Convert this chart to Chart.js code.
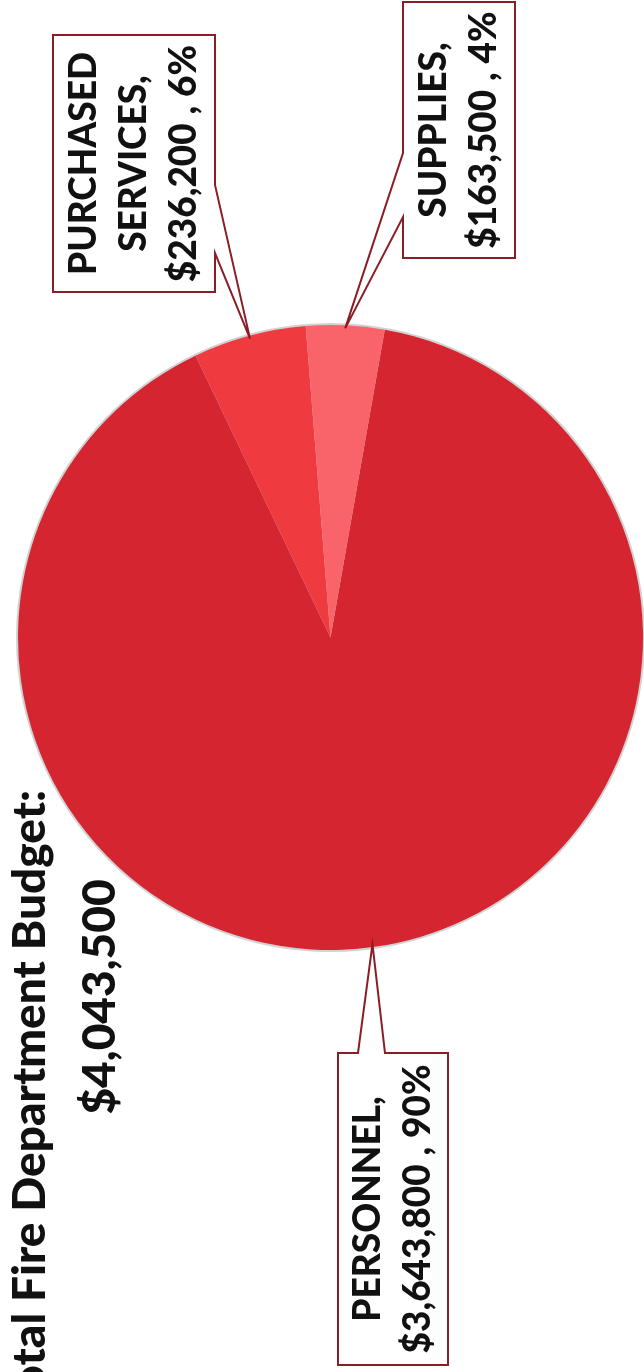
<!DOCTYPE html>
<html>
<head>
<meta charset="utf-8">
<script src="https://cdn.jsdelivr.net/npm/chart.js@4.4.1/dist/chart.umd.min.js"></script>
<style>
    html, body { margin: 0; padding: 0; background: #fff; overflow: hidden; }
    #budgetChart { display: block; }
</style>
</head>
<body>
<canvas id="budgetChart" width="644" height="1372"></canvas>
<script>
// data
const categories = [['PERSONNEL'], ['PURCHASED', 'SERVICES'], ['SUPPLIES']];
const amounts = [3643800, 236200, 163500];
const sliceColors = ['#d42530', '#ef3a40', '#f9646a'];
const titleText = 'Total Fire Department Budget:';

const total = amounts.reduce((s, v) => s + v, 0);
const money = v => '$' + v.toLocaleString('en-US');

// callout boxes (page is turned on its side, text reads bottom to top)
const callouts = [
    { x: 338, y: 1053, w: 110, h: 312, side: 'top', base: [358, 385] },
    { x: 53, y: 35, w: 162, h: 257, side: 'right', base: [185, 253] },
    { x: 403, y: 2, w: 112, h: 256, side: 'left', base: [153, 217] }
];

const labelFont = '900 37px Lato';
const titleFont = '900 46px Lato';
const lineGap = 50;
const edgeColor = '#8b1d26';

function calloutPath(ctx, b, tip) {
    const x0 = b.x, y0 = b.y, x1 = b.x + b.w, y1 = b.y + b.h;
    ctx.beginPath();
    ctx.moveTo(x0, y0);
    if (b.side === 'top') {
        ctx.lineTo(b.base[0], y0); ctx.lineTo(tip.x, tip.y); ctx.lineTo(b.base[1], y0);
    }
    ctx.lineTo(x1, y0);
    if (b.side === 'right') {
        ctx.lineTo(x1, b.base[0]); ctx.lineTo(tip.x, tip.y); ctx.lineTo(x1, b.base[1]);
    }
    ctx.lineTo(x1, y1);
    ctx.lineTo(x0, y1);
    if (b.side === 'left') {
        ctx.lineTo(x0, b.base[1]); ctx.lineTo(tip.x, tip.y); ctx.lineTo(x0, b.base[0]);
    }
    ctx.closePath();
}

function sideText(ctx, lines, cx, cy, gap) {
    ctx.save();
    ctx.translate(cx, cy);
    ctx.rotate(-Math.PI / 2);
    lines.forEach((line, i) => {
        ctx.fillText(line, 0, (i - (lines.length - 1) / 2) * gap);
    });
    ctx.restore();
}

const pieEdge = {
    id: 'pieEdge',
    beforeDatasetsDraw(chart) {
        const arc = chart.getDatasetMeta(0).data[0];
        const { x, y, outerRadius } = arc.getProps(['x', 'y', 'outerRadius'], true);
        const ctx = chart.ctx;
        ctx.save();
        ctx.beginPath();
        ctx.arc(x, y, outerRadius + 2, 0, Math.PI * 2);
        ctx.fillStyle = '#d2d2d2';
        ctx.fill();
        ctx.restore();
    }
};

const sideLabels = {
    id: 'sideLabels',
    afterDatasetsDraw(chart) {
        const ctx = chart.ctx;
        const arcs = chart.getDatasetMeta(0).data;
        ctx.save();

        // title, turned with the page
        ctx.fillStyle = '#111';
        ctx.font = titleFont;
        ctx.textBaseline = 'middle';
        ctx.save();
        ctx.translate(30, 790);
        ctx.rotate(-Math.PI / 2);
        ctx.textAlign = 'right';
        ctx.fillText(titleText, 0, 0);
        ctx.restore();
        ctx.textAlign = 'center';
        sideText(ctx, [money(total)], 100, 997, 0);

        arcs.forEach((arc, i) => {
            const p = arc.getProps(['x', 'y', 'startAngle', 'endAngle', 'outerRadius'], true);
            const mid = (p.startAngle + p.endAngle) / 2;
            const tip = {
                x: p.x + Math.cos(mid) * (p.outerRadius - 3),
                y: p.y + Math.sin(mid) * (p.outerRadius - 3)
            };
            const b = callouts[i];
            calloutPath(ctx, b, tip);
            ctx.fillStyle = '#fff';
            ctx.fill();
            ctx.lineWidth = 2;
            ctx.strokeStyle = edgeColor;
            ctx.stroke();

            const pct = Math.round(amounts[i] / total * 100);
            const name = categories[i].slice();
            name[name.length - 1] += ',';
            const lines = name.concat([money(amounts[i]) + ' , ' + pct + '%']);
            ctx.fillStyle = '#111';
            ctx.font = labelFont;
            ctx.textAlign = 'center';
            ctx.textBaseline = 'middle';
            sideText(ctx, lines, b.x + b.w / 2, b.y + b.h / 2, lineGap);
        });
        ctx.restore();
    }
};

new Chart(document.getElementById('budgetChart'), {
    type: 'pie',
    data: {
        labels: categories.map(c => c.join(' ')),
        datasets: [{
            data: amounts,
            backgroundColor: sliceColors,
            borderWidth: 0
        }]
    },
    options: {
        responsive: false,
        devicePixelRatio: 1,
        animation: false,
        rotation: 10,
        layout: { padding: { left: 18, right: 1, top: 325, bottom: 422 } },
        plugins: {
            legend: { display: false },
            tooltip: { enabled: false },
            title: { display: false }
        }
    },
    plugins: [pieEdge, sideLabels]
});
</script>
</body>
</html>
